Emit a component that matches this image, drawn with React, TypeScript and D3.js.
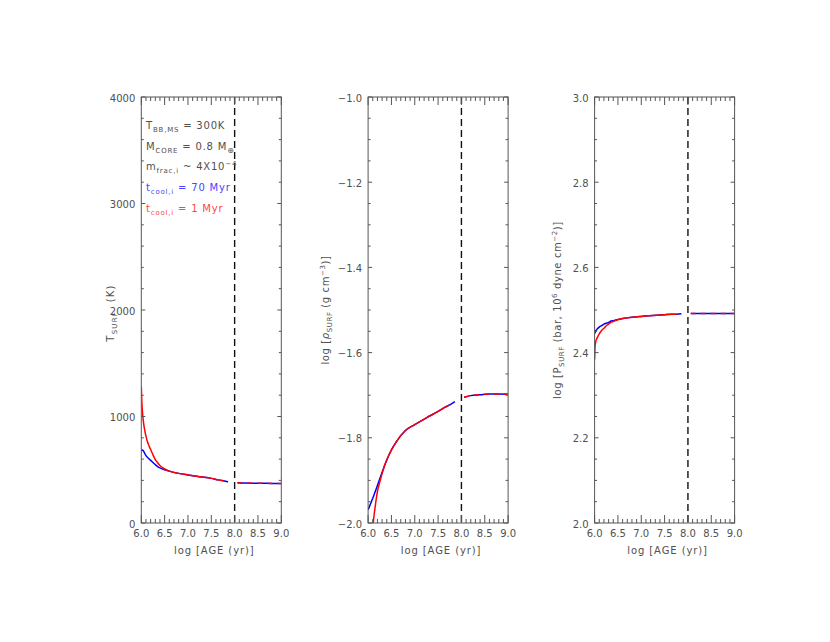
import React from 'react';
import * as d3 from 'd3';

// ---------- data ----------
const agePre = [6.0, 6.01, 6.02, 6.04, 6.06, 6.08, 6.1, 6.13, 6.16, 6.2, 6.25, 6.3, 6.35, 6.4, 6.5, 6.6, 6.8, 7.0, 7.25, 7.5, 7.65, 7.76, 7.86];
const agePost = [8.06, 8.2, 8.4, 8.6, 8.8, 9.0];

const tempBlue = [672, 680, 685, 680, 665, 648, 632, 618, 605, 588, 568, 548, 530, 517, 500, 487, 466, 451, 434, 419, 405, 396, 388];
const tempRed = [1280, 1150, 1070, 970, 905, 855, 815, 765, 730, 690, 640, 595, 565, 540, 507, 487, 466, 451, 434, 419, 405, 396, null];
const tempPost = [379, 376, 374, 373, 372, 372];

const rhoBlue = [-1.969, -1.966, -1.964, -1.958, -1.953, -1.947, -1.942, -1.933, -1.924, -1.912, -1.896, -1.881, -1.866, -1.852, -1.828, -1.81, -1.783, -1.769, -1.753, -1.738, -1.728, -1.722, -1.715];
const rhoRed = [-2.13, -2.118, -2.106, -2.083, -2.055, -2.031, -2.01, -1.98, -1.955, -1.926, -1.904, -1.884, -1.866, -1.852, -1.829, -1.81, -1.783, -1.769, -1.753, -1.738, -1.728, -1.722, null];
const rhoPost = [-1.705, -1.701, -1.699, -1.697, -1.697, -1.698];

const presBlue = [2.445, 2.447, 2.45, 2.453, 2.456, 2.458, 2.46, 2.462, 2.464, 2.467, 2.469, 2.471, 2.474, 2.475, 2.478, 2.48, 2.483, 2.485, 2.487, 2.489, 2.49, 2.49, 2.491];
const presRed = [2.384, 2.415, 2.423, 2.431, 2.436, 2.44, 2.444, 2.449, 2.453, 2.457, 2.463, 2.467, 2.471, 2.473, 2.477, 2.48, 2.483, 2.485, 2.487, 2.489, 2.49, 2.49, null];
const presPost = [2.492, 2.492, 2.492, 2.492, 2.492, 2.492];

const xTicks = [6.0, 6.5, 7.0, 7.5, 8.0, 8.5, 9.0];
const xTickLabels = ['6.0', '6.5', '7.0', '7.5', '8.0', '8.5', '9.0'];
const tempTicks = [0, 1000, 2000, 3000, 4000];
const tempTickLabels = ['0', '1000', '2000', '3000', '4000'];
const rhoTicks = [-2.0, -1.8, -1.6, -1.4, -1.2, -1.0];
const rhoTickLabels = ['\u22122.0', '\u22121.8', '\u22121.6', '\u22121.4', '\u22121.2', '\u22121.0'];
const presTicks = [2.0, 2.2, 2.4, 2.6, 2.8, 3.0];
const presTickLabels = ['2.0', '2.2', '2.4', '2.6', '2.8', '3.0'];
const breakAge = 8.0;

// ---------- layout ----------
const TOP = 97;
const BOTTOM = 523;
const PW = 140;
const FONT = '"DejaVu Sans", sans-serif';
const TXT = '#505050';
const AX = '#555';

type PanelProps = {
  id: string;
  left: number;
  yDomain: [number, number];
  yTicks: number[];
  yTickLabels: string[];
  yMinor: number;
  blue: (number | null)[];
  red: (number | null)[];
  post: number[];
  titleX: number;
  titleY: number;
  titleSpacing: number;
  title: React.ReactNode;
  children?: React.ReactNode;
};

function Panel(p: PanelProps) {
  const x = d3.scaleLinear().domain([6, 9]).range([p.left, p.left + PW]);
  const y = d3.scaleLinear().domain(p.yDomain).range([BOTTOM, TOP]);
  const line = d3
    .line<[number, number | null]>()
    .defined((d) => d[1] !== null)
    .x((d) => x(d[0]))
    .y((d) => y(d[1] as number))
    .curve(d3.curveMonotoneX);
  const pre = (vals: (number | null)[]) => line(agePre.map((a, i) => [a, vals[i]]) as any) || '';
  const postPath = line(agePost.map((a, i) => [a, p.post[i]]) as any) || '';

  const xMinor = d3.range(6, 9.0001, 0.1).map((v) => +v.toFixed(2)).filter((v) => !xTicks.some((t) => Math.abs(t - v) < 1e-6));
  const [y0, y1] = p.yDomain;
  const nMinor = Math.round((y1 - y0) / p.yMinor);
  const yMinor = d3.range(0, nMinor + 1).map((i) => y0 + i * p.yMinor).filter((v) => !p.yTicks.some((t) => Math.abs(t - v) < 1e-6));

  const xMajLen = 8, xMinLen = 4, yMajLen = 4, yMinLen = 2.5;
  const R = p.left + PW;

  return (
    <g>
      <defs>
        <clipPath id={'clip-' + p.id}>
          <rect x={p.left} y={TOP} width={PW} height={BOTTOM - TOP} />
        </clipPath>
      </defs>
      <g clipPath={`url(#clip-${p.id})`} fill="none" strokeWidth={1.5}>
        <path d={pre(p.blue)} stroke="#0000ff" />
        <path d={pre(p.red)} stroke="#ff0000" />
        <path d={postPath} stroke="#0000ff" />
        <path d={postPath} stroke="#ff0000" strokeDasharray="5,5" />
      </g>
      <line x1={x(breakAge)} x2={x(breakAge)} y1={TOP} y2={BOTTOM} stroke="#111" strokeWidth={1.4} strokeDasharray="7,4" />
      <rect x={p.left} y={TOP} width={PW} height={BOTTOM - TOP} fill="none" stroke={AX} strokeWidth={1} />
      <g stroke={AX} strokeWidth={1}>
        {xTicks.map((t) => (
          <g key={'xm' + t}>
            <line x1={x(t)} x2={x(t)} y1={BOTTOM} y2={BOTTOM - xMajLen} />
            <line x1={x(t)} x2={x(t)} y1={TOP} y2={TOP + xMajLen} />
          </g>
        ))}
        {xMinor.map((t) => (
          <g key={'xn' + t}>
            <line x1={x(t)} x2={x(t)} y1={BOTTOM} y2={BOTTOM - xMinLen} />
            <line x1={x(t)} x2={x(t)} y1={TOP} y2={TOP + xMinLen} />
          </g>
        ))}
        {p.yTicks.map((t) => (
          <g key={'ym' + t}>
            <line x1={p.left} x2={p.left + yMajLen} y1={y(t)} y2={y(t)} />
            <line x1={R} x2={R - yMajLen} y1={y(t)} y2={y(t)} />
          </g>
        ))}
        {yMinor.map((t) => (
          <g key={'yn' + t}>
            <line x1={p.left} x2={p.left + yMinLen} y1={y(t)} y2={y(t)} />
            <line x1={R} x2={R - yMinLen} y1={y(t)} y2={y(t)} />
          </g>
        ))}
      </g>
      <g fontFamily={FONT} fontSize={10} fill={TXT}>
        {xTicks.map((t, i) => (
          <text key={'xl' + t} x={x(t)} y={537} textAnchor="middle">
            {xTickLabels[i]}
          </text>
        ))}
        {p.yTicks.map((t, i) => (
          <text key={'yl' + t} x={p.left - 6} y={y(t) + 4.5} textAnchor="end">
            {p.yTickLabels[i]}
          </text>
        ))}
        <text x={p.left + PW / 2 + 3} y={554} textAnchor="middle" letterSpacing={0.9}>
          log [AGE (yr)]
        </text>
        <text transform={`translate(${p.titleX},${p.titleY}) rotate(-90)`} textAnchor="middle" letterSpacing={p.titleSpacing}>
          {p.title}
        </text>
      </g>
      {p.children}
    </g>
  );
}

export default function App() {
  const ann = { fontFamily: FONT, fontSize: 10, letterSpacing: 0.8 } as const;
  return (
    <svg width={830} height={642} style={{ position: 'absolute', left: 0, top: 0, background: '#fff' }}>
      <rect x={0} y={0} width={830} height={642} fill="#fff" />
      <Panel
        id="t"
        left={141.3}
        yDomain={[0, 4000]}
        yTicks={tempTicks}
        yTickLabels={tempTickLabels}
        yMinor={200}
        blue={tempBlue}
        red={tempRed}
        post={tempPost}
        titleX={114}
        titleY={313}
        titleSpacing={1.2}
        title={[
          <tspan key="1">T</tspan>,
          <tspan key="2" dy={3} fontSize={7}>SURF</tspan>,
          <tspan key="3" dy={-3}>{'\u00a0\u00a0(K)'}</tspan>,
        ]}
      >
        <g {...ann} fill={TXT}>
          <text x={146} y={129}>
            <tspan>T</tspan>
            <tspan dy={3} fontSize={7}>BB,MS</tspan>
            <tspan dy={-3}>{' = 300K'}</tspan>
          </text>
          <text x={146} y={149.5}>
            <tspan>M</tspan>
            <tspan dy={3} fontSize={7}>CORE</tspan>
            <tspan dy={-3}>{' = 0.8 M'}</tspan>
            <tspan dy={3} fontSize={8}>⊕</tspan>
          </text>
          <text x={146} y={170}>
            <tspan>m</tspan>
            <tspan dy={3} fontSize={7}>frac,i</tspan>
            <tspan dy={-3}>{' ~ 4X10'}</tspan>
            <tspan dy={-4} fontSize={7}>−4</tspan>
          </text>
          <text x={146} y={191} fill="#4545ff">
            <tspan>t</tspan>
            <tspan dy={3} fontSize={7}>cool,i</tspan>
            <tspan dy={-3}>{' = 70 Myr'}</tspan>
          </text>
          <text x={146} y={212} fill="#ff4545">
            <tspan>t</tspan>
            <tspan dy={3} fontSize={7}>cool,i</tspan>
            <tspan dy={-3}>{' = 1 Myr'}</tspan>
          </text>
        </g>
      </Panel>
      <Panel
        id="rho"
        left={368.1}
        yDomain={[-2, -1]}
        yTicks={rhoTicks}
        yTickLabels={rhoTickLabels}
        yMinor={0.05}
        blue={rhoBlue}
        red={rhoRed}
        post={rhoPost}
        titleX={329}
        titleY={310}
        titleSpacing={0.6}
        title={[
          <tspan key="1">log [</tspan>,
          <tspan key="2" fontStyle="italic">ρ</tspan>,
          <tspan key="3" dy={3} fontSize={7}>SURF</tspan>,
          <tspan key="4" dy={-3}> (g cm</tspan>,
          <tspan key="5" dy={-4} fontSize={7}>−3</tspan>,
          <tspan key="6" dy={4}>)]</tspan>,
        ]}
      />
      <Panel
        id="p"
        left={594.6}
        yDomain={[2, 3]}
        yTicks={presTicks}
        yTickLabels={presTickLabels}
        yMinor={0.05}
        blue={presBlue}
        red={presRed}
        post={presPost}
        titleX={561}
        titleY={310}
        titleSpacing={0.6}
        title={[
          <tspan key="1">log [P</tspan>,
          <tspan key="2" dy={3} fontSize={7}>SURF</tspan>,
          <tspan key="3" dy={-3}> (bar, 10</tspan>,
          <tspan key="4" dy={-4} fontSize={7}>6</tspan>,
          <tspan key="5" dy={4}> dyne cm</tspan>,
          <tspan key="6" dy={-4} fontSize={7}>−2</tspan>,
          <tspan key="7" dy={4}>)]</tspan>,
        ]}
      />
    </svg>
  );
}
